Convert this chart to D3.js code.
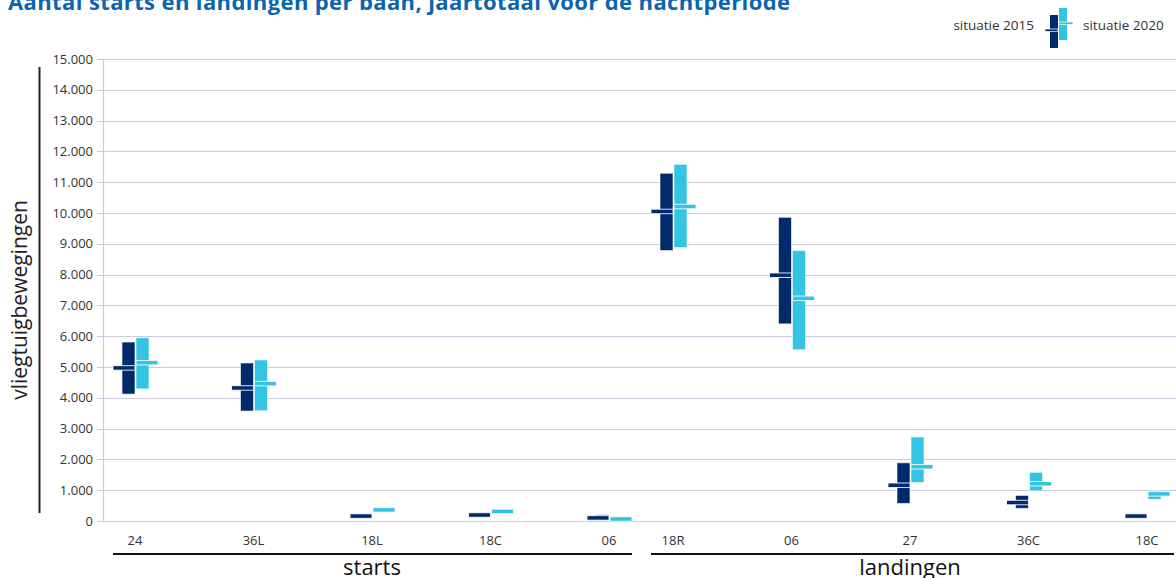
<html>
<head>
    <meta charset="utf-8">
    <style>
        body { margin: 0; background: #fff; }
        text { font-family: "Open Sans", "Noto Sans", sans-serif; }
        .grid line { stroke: #cbcadd; stroke-width: 1.2; }
        .tick-label { font-size: 13px; fill: #333; }
    </style>
</head>
<body>
<script src="https://d3js.org/d3.v7.min.js"></script>
<script>
    var width = 1176, height = 578;

    // categories
    var startCats = ["24", "36L", "18L", "18C", "06"];
    var landCats = ["18R", "06", "27", "36C", "18C"];
    var groups = ["starts", "landingen"];
    var seriesNames = ["situatie 2015", "situatie 2020"];

    // [low, median, high] per runway
    var starts2015 = [[4120, 4970, 5810], [3570, 4320, 5130], [150, 160, 170], [185, 195, 205], [80, 100, 200]];
    var starts2020 = [[4290, 5140, 5950], [3580, 4460, 5230], [350, 360, 370], [300, 310, 320], [60, 65, 70]];
    var land2015 = [[8780, 10050, 11290], [6400, 7980, 9860], [570, 1160, 1890], [410, 600, 830], [150, 160, 170]];
    var land2020 = [[8880, 10210, 11580], [5560, 7230, 8780], [1250, 1760, 2730], [980, 1210, 1580], [700, 880, 990]];

    var yTicks = d3.range(0, 15001, 1000);

    var colors = ["#002a6a", "#33c3e3"];

    var svg = d3.select("body").append("svg")
        .attr("width", width)
        .attr("height", height);

    var y = d3.scaleLinear().domain([0, 15000]).range([521, 59]);
    var xStarts = d3.scalePoint().domain(startCats).range([135, 609]);
    var xLand = d3.scalePoint().domain(landCats).range([673, 1147]);

    var fmt = d3.formatLocale({decimal: ",", thousands: ".", grouping: [3], currency: ["", ""]}).format(",");

    // title (partly cut at the top)
    svg.append("text")
        .attr("x", 8).attr("y", 10)
        .attr("font-size", 22).attr("font-weight", "bold")
        .attr("fill", "#0a64b0")
        .attr("textLength", 782)
        .text("Aantal starts en landingen per baan, jaartotaal voor de nachtperiode");

    // grid
    var grid = svg.append("g").attr("class", "grid");
    grid.selectAll("line").data(yTicks).enter().append("line")
        .attr("x1", 97).attr("x2", width)
        .attr("y1", function(d) { return Math.round(y(d)) + 0.5; })
        .attr("y2", function(d) { return Math.round(y(d)) + 0.5; });
    grid.append("line")
        .attr("x1", 103.5).attr("x2", 103.5)
        .attr("y1", y(15000)).attr("y2", y(0));

    svg.append("g").selectAll("text").data(yTicks).enter().append("text")
        .attr("class", "tick-label")
        .attr("x", 93).attr("y", function(d) { return y(d); })
        .attr("dy", "0.35em")
        .attr("text-anchor", "end")
        .text(function(d) { return fmt(d); });

    // y title
    svg.append("line")
        .attr("x1", 39.5).attr("x2", 39.5).attr("y1", 67).attr("y2", 513)
        .attr("stroke", "#222").attr("stroke-width", 2);
    svg.append("text")
        .attr("transform", "translate(27,300) rotate(-90)")
        .attr("text-anchor", "middle")
        .attr("font-size", 21).attr("fill", "#222")
        .text("vliegtuigbewegingen");

    // markers
    function drawMarker(g, cx, d, s) {
        var bw = 13, ext = 9, mh = 4.5;
        var x0 = s === 0 ? cx - bw : cx + 1;
        var lo = y(d[0]), hi = y(d[2]), md = y(d[1]);
        g.append("rect")
            .attr("x", x0).attr("y", hi)
            .attr("width", bw).attr("height", Math.max(0, lo - hi))
            .attr("fill", colors[s])
            .attr("stroke", "rgba(255,255,255,0.6)").attr("stroke-width", 1);
        g.append("rect")
            .attr("x", s === 0 ? x0 - ext : x0).attr("y", md - mh / 2)
            .attr("width", bw + ext).attr("height", mh)
            .attr("fill", colors[s])
            .attr("stroke", "rgba(255,255,255,0.85)").attr("stroke-width", 1);
    }

    var marks = svg.append("g");
    startCats.forEach(function(c, i) {
        drawMarker(marks, xStarts(c), starts2015[i], 0);
        drawMarker(marks, xStarts(c), starts2020[i], 1);
    });
    landCats.forEach(function(c, i) {
        drawMarker(marks, xLand(c), land2015[i], 0);
        drawMarker(marks, xLand(c), land2020[i], 1);
    });

    // x labels
    var xl = svg.append("g");
    [[startCats, xStarts], [landCats, xLand]].forEach(function(p, gi) {
        xl.selectAll(null).data(p[0]).enter().append("text")
            .attr("class", "tick-label")
            .attr("x", function(d) { return p[1](d); })
            .attr("y", 545)
            .attr("text-anchor", "middle")
            .text(function(d) { return d; });
        var r = p[1].range();
        xl.append("line")
            .attr("x1", r[0] - 22).attr("x2", r[1] + (gi === 0 ? 23 : 27))
            .attr("y1", 554).attr("y2", 554)
            .attr("stroke", "#111").attr("stroke-width", 2.2);
        xl.append("text")
            .attr("x", p[1](p[0][2]))
            .attr("y", 575)
            .attr("text-anchor", "middle")
            .attr("font-size", 22).attr("fill", "#111")
            .text(groups[gi]);
    });

    // legend
    var lg = svg.append("g");
    lg.append("text").attr("x", 1034).attr("y", 30).attr("text-anchor", "end")
        .attr("font-size", 13.5).attr("fill", "#333").text(seriesNames[0]);
    lg.append("text").attr("x", 1083).attr("y", 30)
        .attr("font-size", 13.5).attr("fill", "#333").text(seriesNames[1]);
    lg.append("rect").attr("x", 1050).attr("y", 15).attr("width", 8).attr("height", 33).attr("fill", colors[0]);
    lg.append("rect").attr("x", 1045).attr("y", 29).attr("width", 13).attr("height", 2.5).attr("fill", colors[0])
        .attr("stroke", "#fff").attr("stroke-width", 0.7);
    lg.append("rect").attr("x", 1059).attr("y", 8).attr("width", 8).attr("height", 32).attr("fill", colors[1]);
    lg.append("rect").attr("x", 1059).attr("y", 22).attr("width", 14).attr("height", 2.5).attr("fill", colors[1])
        .attr("stroke", "#fff").attr("stroke-width", 0.7);
</script>
</body>
</html>
